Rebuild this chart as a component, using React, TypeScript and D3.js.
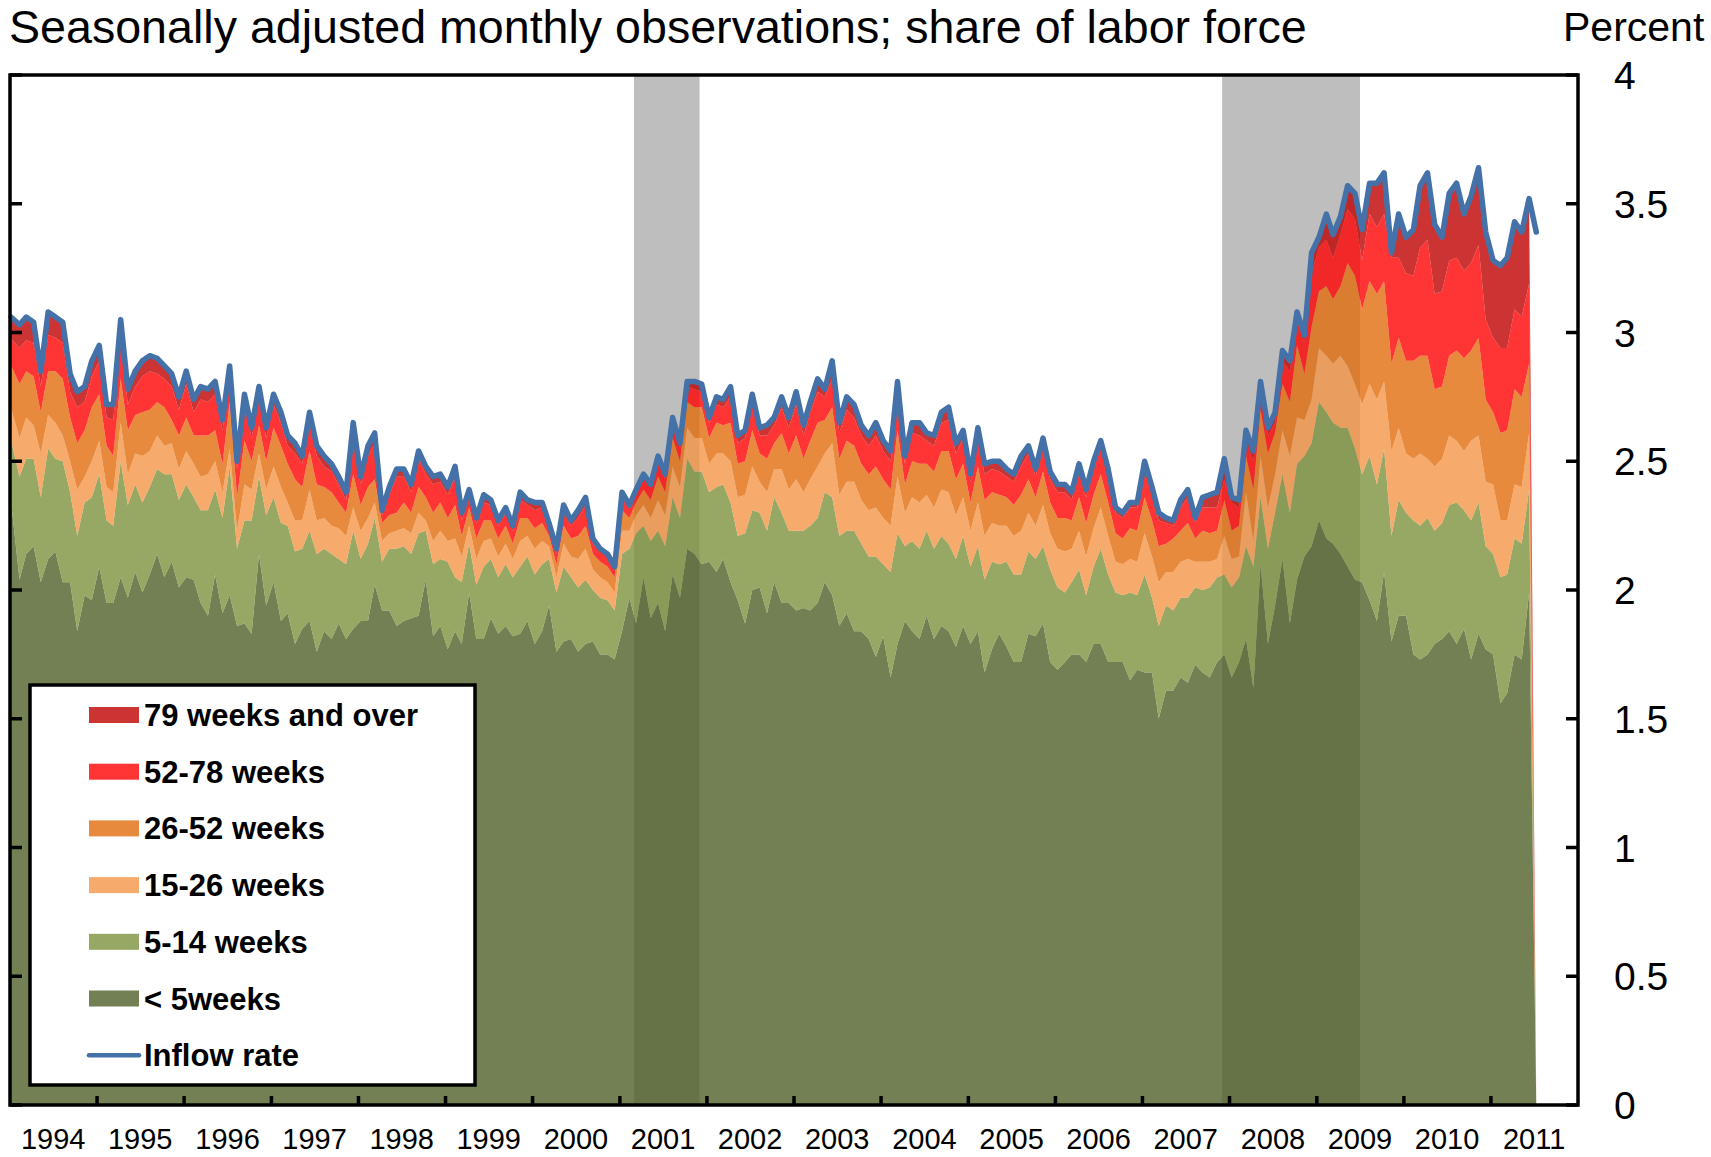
import React, { useEffect, useRef } from "react";
import * as d3 from "d3";

const W = 1711;
const H = 1157;

// year labels on the x axis
const years = ["1994", "1995", "1996", "1997", "1998", "1999", "2000", "2001", "2002",
  "2003", "2004", "2005", "2006", "2007", "2008", "2009", "2010", "2011"];
const yTicks = [0, 0.5, 1, 1.5, 2, 2.5, 3, 3.5, 4];
const yTickLabels = ["0", "0.5", "1", "1.5", "2", "2.5", "3", "3.5", "4"];
// recession months (start, end) as [year, monthIndex]
const recessions = [[[2001, 2], [2001, 11]], [[2007, 11], [2009, 6]]];

// monthly values from Jan 1994, percent of labor force
const under5 = [
  2.38, 2.04, 2.14, 2.17, 2.03, 2.12, 2.15, 2.03, 2.03, 1.84,
  1.98, 1.96, 2.09, 1.95, 1.95, 2.05, 1.97, 2.07, 1.99, 2.06,
  2.14, 2.05, 2.11, 2.01, 2.05, 2.04, 1.95, 1.90, 2.06, 1.91,
  1.98, 1.86, 1.87, 1.83, 2.14, 1.94, 2.03, 1.88, 1.91, 1.79,
  1.85, 1.88, 1.76, 1.84, 1.81, 1.87, 1.81, 1.85, 1.88, 1.88,
  2.02, 1.92, 1.92, 1.86, 1.88, 1.89, 1.90, 2.04, 1.82, 1.86,
  1.77, 1.84, 1.79, 1.99, 1.81, 1.81, 1.89, 1.83, 1.86, 1.82,
  1.83, 1.88, 1.79, 1.84, 1.94, 1.76, 1.80, 1.81, 1.76, 1.79,
  1.80, 1.75, 1.75, 1.73, 1.84, 1.97, 1.87, 2.05, 1.89, 1.95,
  1.84, 2.06, 1.97, 2.16, 2.14, 2.10, 2.11, 2.07, 2.12, 2.03,
  1.96, 1.87, 2.00, 2.01, 1.91, 2.03, 1.95, 1.95, 1.92, 1.93,
  1.92, 1.95, 2.03, 1.98, 1.86, 1.91, 1.84, 1.84, 1.81, 1.74,
  1.82, 1.66, 1.79, 1.88, 1.84, 1.81, 1.90, 1.81, 1.86, 1.84,
  1.78, 1.86, 1.79, 1.84, 1.68, 1.77, 1.83, 1.78, 1.72, 1.72,
  1.83, 1.82, 1.87, 1.72, 1.69, 1.72, 1.75, 1.75, 1.72, 1.79,
  1.79, 1.72, 1.72, 1.72, 1.65, 1.69, 1.68, 1.68, 1.50, 1.61,
  1.61, 1.66, 1.64, 1.71, 1.68, 1.66, 1.72, 1.75, 1.66, 1.72,
  1.81, 1.62, 2.10, 1.79, 1.94, 2.12, 1.87, 2.04, 2.13, 2.17,
  2.27, 2.20, 2.18, 2.14, 2.09, 2.04, 2.03, 1.96, 1.88, 2.07,
  1.80, 1.90, 1.90, 1.75, 1.73, 1.75, 1.79, 1.81, 1.84, 1.79,
  1.85, 1.73, 1.83, 1.77, 1.75, 1.56, 1.60, 1.75, 1.73, 1.99,
  0
];
const w5to14 = [
  0.22, 0.40, 0.37, 0.34, 0.33, 0.43, 0.36, 0.47, 0.35, 0.37,
  0.36, 0.40, 0.36, 0.32, 0.30, 0.45, 0.36, 0.34, 0.35, 0.34,
  0.33, 0.40, 0.34, 0.34, 0.36, 0.32, 0.36, 0.41, 0.33, 0.37,
  0.50, 0.30, 0.40, 0.44, 0.30, 0.35, 0.33, 0.38, 0.34, 0.36,
  0.31, 0.35, 0.38, 0.32, 0.33, 0.25, 0.29, 0.38, 0.24, 0.30,
  0.26, 0.19, 0.24, 0.30, 0.29, 0.25, 0.32, 0.19, 0.28, 0.26,
  0.34, 0.21, 0.24, 0.19, 0.21, 0.28, 0.23, 0.22, 0.24, 0.23,
  0.26, 0.25, 0.27, 0.26, 0.18, 0.23, 0.29, 0.24, 0.25, 0.25,
  0.20, 0.22, 0.21, 0.19, 0.30, 0.19, 0.35, 0.20, 0.30, 0.28,
  0.33, 0.30, 0.31, 0.35, 0.32, 0.36, 0.27, 0.33, 0.29, 0.31,
  0.25, 0.35, 0.31, 0.29, 0.32, 0.33, 0.35, 0.28, 0.31, 0.30,
  0.33, 0.33, 0.35, 0.38, 0.35, 0.32, 0.39, 0.34, 0.32, 0.39,
  0.28, 0.41, 0.43, 0.29, 0.35, 0.35, 0.33, 0.35, 0.35, 0.34,
  0.34, 0.35, 0.30, 0.33, 0.36, 0.34, 0.27, 0.33, 0.34, 0.34,
  0.32, 0.30, 0.30, 0.36, 0.32, 0.27, 0.28, 0.33, 0.26, 0.30,
  0.37, 0.34, 0.27, 0.26, 0.34, 0.29, 0.38, 0.29, 0.36, 0.33,
  0.31, 0.31, 0.33, 0.30, 0.32, 0.35, 0.33, 0.31, 0.35, 0.33,
  0.36, 0.47, 0.26, 0.37, 0.36, 0.33, 0.43, 0.45, 0.39, 0.40,
  0.46, 0.49, 0.47, 0.49, 0.54, 0.51, 0.42, 0.56, 0.53, 0.48,
  0.41, 0.45, 0.40, 0.52, 0.52, 0.53, 0.44, 0.45, 0.49, 0.55,
  0.46, 0.54, 0.51, 0.40, 0.39, 0.49, 0.46, 0.45, 0.45, 0.40,
  0
];
const w15to26 = [
  0.12, 0.15, 0.16, 0.13, 0.17, 0.13, 0.14, 0.10, 0.12, 0.18,
  0.10, 0.14, 0.13, 0.13, 0.13, 0.15, 0.12, 0.12, 0.18, 0.14,
  0.13, 0.11, 0.12, 0.12, 0.13, 0.13, 0.13, 0.14, 0.11, 0.10,
  0.07, 0.07, 0.14, 0.12, 0.09, 0.10, 0.12, 0.14, 0.09, 0.12,
  0.11, 0.16, 0.13, 0.12, 0.11, 0.12, 0.11, 0.09, 0.11, 0.10,
  0.06, 0.08, 0.06, 0.07, 0.07, 0.08, 0.08, 0.04, 0.09, 0.11,
  0.08, 0.15, 0.10, 0.07, 0.10, 0.10, 0.08, 0.08, 0.08, 0.07,
  0.10, 0.08, 0.10, 0.09, 0.05, 0.06, 0.09, 0.08, 0.11, 0.12,
  0.08, 0.08, 0.07, 0.07, 0.09, 0.07, 0.07, 0.08, 0.09, 0.12,
  0.12, 0.12, 0.12, 0.12, 0.13, 0.13, 0.11, 0.13, 0.12, 0.16,
  0.15, 0.15, 0.17, 0.12, 0.15, 0.11, 0.17, 0.16, 0.20, 0.15,
  0.18, 0.20, 0.15, 0.21, 0.16, 0.19, 0.19, 0.17, 0.18, 0.19,
  0.18, 0.18, 0.22, 0.13, 0.17, 0.18, 0.14, 0.16, 0.18, 0.20,
  0.17, 0.15, 0.14, 0.17, 0.17, 0.15, 0.15, 0.14, 0.15, 0.17,
  0.15, 0.13, 0.16, 0.14, 0.15, 0.16, 0.13, 0.15, 0.15, 0.15,
  0.16, 0.15, 0.12, 0.12, 0.13, 0.13, 0.16, 0.16, 0.17, 0.13,
  0.15, 0.14, 0.15, 0.10, 0.11, 0.10, 0.07, 0.15, 0.11, 0.08,
  0.21, 0.10, 0.16, 0.16, 0.15, 0.17, 0.22, 0.18, 0.14, 0.17,
  0.21, 0.22, 0.23, 0.28, 0.24, 0.25, 0.27, 0.28, 0.33, 0.26,
  0.33, 0.28, 0.23, 0.24, 0.28, 0.23, 0.25, 0.25, 0.27, 0.24,
  0.23, 0.31, 0.26, 0.25, 0.27, 0.22, 0.21, 0.21, 0.22, 0.22,
  0
];
const w26to52 = [
  0.16, 0.21, 0.18, 0.19, 0.16, 0.17, 0.20, 0.22, 0.17, 0.18,
  0.18, 0.21, 0.18, 0.16, 0.14, 0.17, 0.17, 0.15, 0.17, 0.16,
  0.13, 0.15, 0.09, 0.13, 0.13, 0.11, 0.16, 0.15, 0.12, 0.11,
  0.18, 0.13, 0.17, 0.11, 0.11, 0.11, 0.15, 0.16, 0.15, 0.16,
  0.13, 0.15, 0.14, 0.12, 0.13, 0.10, 0.09, 0.13, 0.10, 0.12,
  0.09, 0.07, 0.07, 0.07, 0.10, 0.08, 0.10, 0.09, 0.11, 0.11,
  0.09, 0.13, 0.08, 0.07, 0.08, 0.08, 0.07, 0.07, 0.07, 0.06,
  0.09, 0.07, 0.08, 0.07, 0.04, 0.05, 0.07, 0.07, 0.09, 0.09,
  0.06, 0.06, 0.06, 0.06, 0.08, 0.05, 0.05, 0.06, 0.07, 0.09,
  0.09, 0.11, 0.10, 0.10, 0.12, 0.12, 0.10, 0.12, 0.11, 0.15,
  0.13, 0.13, 0.14, 0.11, 0.13, 0.10, 0.14, 0.14, 0.17, 0.13,
  0.15, 0.17, 0.13, 0.14, 0.14, 0.16, 0.14, 0.14, 0.14, 0.16,
  0.15, 0.14, 0.18, 0.11, 0.14, 0.15, 0.12, 0.14, 0.15, 0.16,
  0.14, 0.13, 0.11, 0.14, 0.14, 0.12, 0.12, 0.11, 0.12, 0.14,
  0.13, 0.11, 0.13, 0.12, 0.12, 0.13, 0.11, 0.13, 0.13, 0.13,
  0.13, 0.13, 0.11, 0.10, 0.12, 0.12, 0.14, 0.14, 0.14, 0.11,
  0.13, 0.12, 0.14, 0.09, 0.12, 0.11, 0.11, 0.14, 0.11, 0.12,
  0.14, 0.20, 0.18, 0.21, 0.16, 0.18, 0.21, 0.28, 0.18, 0.28,
  0.22, 0.27, 0.25, 0.27, 0.40, 0.42, 0.37, 0.40, 0.41, 0.39,
  0.34, 0.35, 0.36, 0.38, 0.38, 0.40, 0.30, 0.28, 0.31, 0.35,
  0.36, 0.35, 0.38, 0.32, 0.28, 0.34, 0.35, 0.37, 0.35, 0.27,
  0
];
const w52to78 = [
  0.10, 0.14, 0.12, 0.13, 0.10, 0.14, 0.13, 0.14, 0.10, 0.14,
  0.11, 0.12, 0.13, 0.11, 0.14, 0.17, 0.10, 0.11, 0.14, 0.15,
  0.11, 0.11, 0.13, 0.10, 0.13, 0.09, 0.14, 0.13, 0.14, 0.13,
  0.10, 0.11, 0.14, 0.09, 0.11, 0.09, 0.09, 0.09, 0.07, 0.10,
  0.09, 0.11, 0.11, 0.08, 0.08, 0.07, 0.05, 0.16, 0.08, 0.12,
  0.14, 0.03, 0.08, 0.14, 0.10, 0.08, 0.11, 0.09, 0.11, 0.08,
  0.09, 0.11, 0.06, 0.05, 0.06, 0.07, 0.06, 0.05, 0.05, 0.05,
  0.07, 0.05, 0.07, 0.06, 0.04, 0.04, 0.06, 0.05, 0.07, 0.08,
  0.04, 0.04, 0.04, 0.03, 0.05, 0.04, 0.04, 0.05, 0.05, 0.06,
  0.05, 0.06, 0.05, 0.06, 0.07, 0.06, 0.06, 0.07, 0.07, 0.10,
  0.08, 0.09, 0.10, 0.07, 0.09, 0.07, 0.10, 0.10, 0.12, 0.09,
  0.11, 0.12, 0.09, 0.11, 0.10, 0.12, 0.11, 0.11, 0.11, 0.12,
  0.11, 0.11, 0.14, 0.08, 0.11, 0.11, 0.09, 0.10, 0.11, 0.12,
  0.10, 0.10, 0.08, 0.11, 0.10, 0.09, 0.09, 0.08, 0.09, 0.11,
  0.10, 0.08, 0.10, 0.09, 0.10, 0.10, 0.08, 0.10, 0.10, 0.10,
  0.10, 0.10, 0.08, 0.08, 0.08, 0.09, 0.11, 0.10, 0.10, 0.08,
  0.05, 0.09, 0.10, 0.06, 0.09, 0.10, 0.09, 0.08, 0.11, 0.07,
  0.06, 0.11, 0.08, 0.07, 0.04, 0.09, 0.12, 0.10, 0.12, 0.21,
  0.17, 0.18, 0.16, 0.20, 0.21, 0.22, 0.19, 0.26, 0.26, 0.26,
  0.41, 0.31, 0.34, 0.33, 0.42, 0.45, 0.37, 0.37, 0.37, 0.36,
  0.34, 0.34, 0.36, 0.31, 0.29, 0.33, 0.32, 0.31, 0.31, 0.31,
  0
];
const w79plus = [
  0.08, 0.09, 0.09, 0.08, 0.06, 0.09, 0.08, 0.08, 0.07, 0.06,
  0.06, 0.06, 0.06, 0.05, 0.06, 0.06, 0.06, 0.06, 0.06, 0.06,
  0.06, 0.05, 0.05, 0.05, 0.05, 0.05, 0.05, 0.05, 0.05, 0.04,
  0.04, 0.03, 0.04, 0.04, 0.04, 0.04, 0.04, 0.04, 0.04, 0.04,
  0.03, 0.04, 0.04, 0.04, 0.03, 0.03, 0.03, 0.04, 0.03, 0.04,
  0.04, 0.02, 0.03, 0.03, 0.03, 0.03, 0.03, 0.03, 0.03, 0.03,
  0.03, 0.04, 0.03, 0.02, 0.02, 0.03, 0.02, 0.02, 0.02, 0.02,
  0.03, 0.02, 0.03, 0.02, 0.01, 0.02, 0.02, 0.02, 0.03, 0.03,
  0.02, 0.01, 0.01, 0.01, 0.02, 0.01, 0.01, 0.01, 0.01, 0.02,
  0.02, 0.02, 0.02, 0.02, 0.03, 0.03, 0.02, 0.03, 0.03, 0.04,
  0.03, 0.03, 0.04, 0.03, 0.04, 0.03, 0.04, 0.04, 0.05, 0.04,
  0.04, 0.05, 0.03, 0.07, 0.04, 0.05, 0.05, 0.04, 0.04, 0.05,
  0.04, 0.04, 0.05, 0.03, 0.04, 0.05, 0.03, 0.04, 0.04, 0.05,
  0.04, 0.03, 0.03, 0.04, 0.04, 0.03, 0.04, 0.03, 0.03, 0.04,
  0.03, 0.03, 0.03, 0.03, 0.03, 0.03, 0.03, 0.03, 0.03, 0.03,
  0.03, 0.03, 0.02, 0.02, 0.02, 0.02, 0.03, 0.03, 0.03, 0.02,
  0.02, 0.03, 0.03, 0.02, 0.04, 0.05, 0.06, 0.08, 0.02, 0.03,
  0.04, 0.04, 0.03, 0.03, 0.04, 0.04, 0.04, 0.03, 0.03, 0.08,
  0.04, 0.10, 0.09, 0.07, 0.09, 0.10, 0.12, 0.12, 0.17, 0.16,
  0.02, 0.17, 0.14, 0.18, 0.24, 0.26, 0.27, 0.21, 0.26, 0.29,
  0.22, 0.26, 0.30, 0.34, 0.30, 0.32, 0.35, 0.34, 0.33, 0.33,
  0
];
const inflow = [
  3.06, 3.03, 3.06, 3.04, 2.85, 3.08, 3.06, 3.04, 2.84, 2.77,
  2.79, 2.89, 2.95, 2.72, 2.72, 3.05, 2.78, 2.85, 2.89, 2.91,
  2.90, 2.87, 2.84, 2.75, 2.85, 2.74, 2.79, 2.78, 2.81, 2.66,
  2.87, 2.50, 2.76, 2.63, 2.79, 2.63, 2.76, 2.69, 2.60, 2.57,
  2.52, 2.69, 2.56, 2.52, 2.49, 2.44, 2.38, 2.65, 2.44, 2.56,
  2.61, 2.31, 2.40, 2.47, 2.47, 2.41, 2.54, 2.48, 2.44, 2.45,
  2.40, 2.48, 2.30, 2.39, 2.28, 2.37, 2.35, 2.27, 2.32, 2.25,
  2.38, 2.35, 2.34, 2.34, 2.26, 2.16, 2.33, 2.27, 2.31, 2.36,
  2.20, 2.16, 2.14, 2.09, 2.38, 2.33, 2.39, 2.45, 2.41, 2.52,
  2.45, 2.67, 2.57, 2.81, 2.81, 2.80, 2.67, 2.75, 2.74, 2.79,
  2.60, 2.62, 2.76, 2.63, 2.64, 2.67, 2.75, 2.67, 2.77, 2.64,
  2.73, 2.82, 2.78, 2.89, 2.65, 2.75, 2.72, 2.64, 2.60, 2.65,
  2.58, 2.54, 2.81, 2.52, 2.65, 2.65, 2.61, 2.60, 2.69, 2.71,
  2.57, 2.62, 2.45, 2.63, 2.49, 2.50, 2.50, 2.47, 2.45, 2.52,
  2.56, 2.47, 2.59, 2.46, 2.41, 2.41, 2.38, 2.49, 2.39, 2.50,
  2.58, 2.47, 2.32, 2.30, 2.34, 2.34, 2.50, 2.40, 2.30, 2.28,
  2.27, 2.35, 2.39, 2.28, 2.36, 2.37, 2.38, 2.51, 2.36, 2.35,
  2.62, 2.54, 2.81, 2.63, 2.69, 2.93, 2.89, 3.08, 2.99, 3.31,
  3.37, 3.46, 3.38, 3.45, 3.57, 3.54, 3.40, 3.58, 3.58, 3.62,
  3.31, 3.46, 3.37, 3.40, 3.57, 3.62, 3.42, 3.37, 3.54, 3.58,
  3.46, 3.53, 3.64, 3.39, 3.28, 3.26, 3.29, 3.43, 3.39, 3.52,
  3.39
];

const keys = ["under5", "w5to14", "w15to26", "w26to52", "w52to78", "w79plus"];
const labels = {
  under5: "< 5weeks",
  w5to14: "5-14 weeks",
  w15to26: "15-26 weeks",
  w26to52: "26-52 weeks",
  w52to78: "52-78 weeks",
  w79plus: "79 weeks and over",
};
// fills are drawn at 0.8 opacity so the recession bars show through darker
const colors = {
  under5: "#4f6029",
  w5to14: "#7c923c",
  w15to26: "#f49546",
  w26to52: "#e16d0d",
  w52to78: "#ff0303",
  w79plus: "#bf0000",
};
const lineColor = "#4471a8";
const font = "'Liberation Sans', Arial, sans-serif";

const App = () => {
  const ref = useRef<SVGSVGElement>(null);

  useEffect(() => {
    drawChart();
  }, []);

  const drawChart = () => {
    const svg = d3.select(ref.current);
    svg.selectAll("*").remove();

    const left = 10, right = 1578, top = 75, bottom = 1105;
    // observations sit a few days into each month
    const month = (i: number) => new Date(1994, i, 10);

    const x = d3.scaleTime()
      .domain([new Date(1994, 0, 1), new Date(2012, 0, 1)])
      .range([left, right]);
    const y = d3.scaleLinear().domain([0, 4]).range([bottom, top]);

    const rows = under5.map((v, i) => ({
      date: month(i),
      under5: v,
      w5to14: w5to14[i],
      w15to26: w15to26[i],
      w26to52: w26to52[i],
      w52to78: w52to78[i],
      w79plus: w79plus[i],
    }));

    // recession shading sits behind the areas
    svg.append("g")
      .selectAll("rect")
      .data(recessions)
      .enter()
      .append("rect")
      .attr("x", d => x(new Date(d[0][0], d[0][1], 1)))
      .attr("width", d => x(new Date(d[1][0], d[1][1], 1)) - x(new Date(d[0][0], d[0][1], 1)))
      .attr("y", top)
      .attr("height", bottom - top)
      .attr("fill", "#bebebe");

    const stacked = d3.stack().keys(keys)(rows as any);
    const area = d3.area<any>()
      .x((d, i) => (i === 0 ? left : x(d.data.date)))
      .y0(d => y(d[0]))
      .y1(d => y(d[1]));

    svg.append("g")
      .selectAll("path")
      .data(stacked)
      .enter()
      .append("path")
      .attr("d", d => area(d as any))
      .attr("fill", d => colors[d.key])
      .attr("fill-opacity", 0.8);

    const line = d3.line<number>()
      .x((d, i) => (i === 0 ? left + 1 : x(month(i))))
      .y(d => y(d));

    svg.append("path")
      .attr("d", line(inflow))
      .attr("fill", "none")
      .attr("stroke", lineColor)
      .attr("stroke-width", 5.5)
      .attr("stroke-linejoin", "round")
      .attr("stroke-linecap", "round");

    // frame and ticks
    const axis = svg.append("g").attr("stroke", "#000").attr("stroke-width", 3.5);
    axis.append("rect")
      .attr("x", left).attr("y", top)
      .attr("width", right - left).attr("height", bottom - top)
      .attr("fill", "none");

    axis.selectAll(".ytl")
      .data(yTicks)
      .enter()
      .append("line")
      .attr("x1", left).attr("x2", left + 12)
      .attr("y1", d => y(d)).attr("y2", d => y(d));
    axis.selectAll(".ytr")
      .data(yTicks)
      .enter()
      .append("line")
      .attr("x1", right - 12).attr("x2", right)
      .attr("y1", d => y(d)).attr("y2", d => y(d));

    const yearTicks = d3.timeYear.range(new Date(1995, 0, 1), new Date(2012, 0, 1));
    axis.selectAll(".xt")
      .data(yearTicks)
      .enter()
      .append("line")
      .attr("x1", d => x(d)).attr("x2", d => x(d))
      .attr("y1", bottom).attr("y2", bottom - 9);

    svg.append("g")
      .selectAll("text")
      .data(yTicks)
      .enter()
      .append("text")
      .attr("x", 1614)
      .attr("y", d => y(d) + 14)
      .attr("font-family", font)
      .attr("font-size", 39)
      .text((d, i) => yTickLabels[i]);

    svg.append("g")
      .selectAll("text")
      .data(years)
      .enter()
      .append("text")
      .attr("x", d => x(new Date(+d, 6, 1)))
      .attr("y", 1149)
      .attr("text-anchor", "middle")
      .attr("font-family", font)
      .attr("font-size", 29)
      .text(d => d);

    svg.append("text")
      .attr("x", 9).attr("y", 43)
      .attr("font-family", font)
      .attr("font-size", 46.6)
      .text("Seasonally adjusted monthly observations; share of labor force");

    svg.append("text")
      .attr("x", 1563).attr("y", 41)
      .attr("font-family", font)
      .attr("font-size", 41)
      .text("Percent");

    // legend
    const lg = svg.append("g");
    lg.append("rect")
      .attr("x", 30).attr("y", 685)
      .attr("width", 445).attr("height", 400)
      .attr("fill", "#fff")
      .attr("stroke", "#000")
      .attr("stroke-width", 3.5);

    const order = keys.slice().reverse();
    const rowY = (i: number) => 715 + i * 56.7;
    order.forEach((k, i) => {
      lg.append("rect")
        .attr("x", 89).attr("y", rowY(i) - 8)
        .attr("width", 50).attr("height", 16)
        .attr("fill", colors[k])
        .attr("fill-opacity", 0.8);
      lg.append("text")
        .attr("x", 144).attr("y", rowY(i) + 11)
        .attr("font-family", font)
        .attr("font-weight", "bold")
        .attr("font-size", 31)
        .text(labels[k]);
    });
    lg.append("line")
      .attr("x1", 89).attr("x2", 139)
      .attr("y1", rowY(6)).attr("y2", rowY(6))
      .attr("stroke", lineColor)
      .attr("stroke-width", 4.5)
      .attr("stroke-linecap", "round");
    lg.append("text")
      .attr("x", 144).attr("y", rowY(6) + 11)
      .attr("font-family", font)
      .attr("font-weight", "bold")
      .attr("font-size", 31)
      .text("Inflow rate");
  };

  return (
    <div style={{ position: "absolute", left: 0, top: 0 }}>
      <svg ref={ref} width={W} height={H} style={{ display: "block" }} />
    </div>
  );
};

export default App;
